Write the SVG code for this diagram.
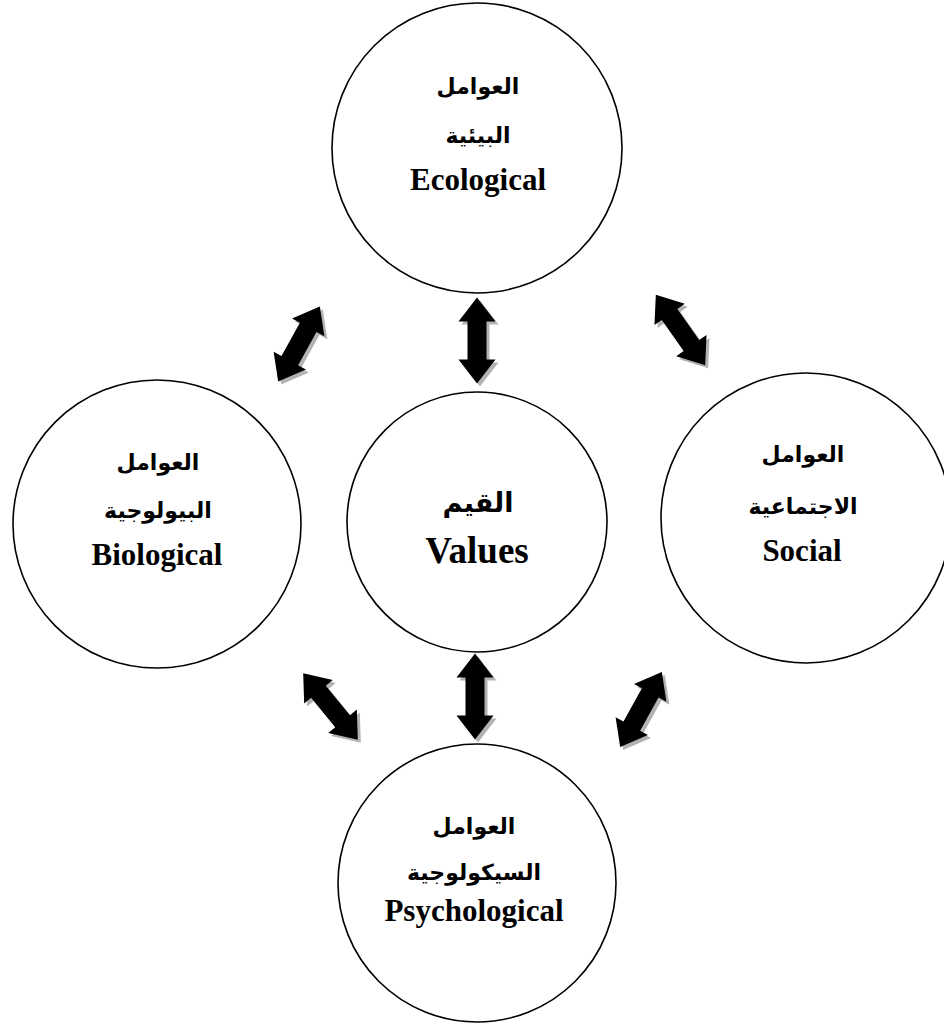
<svg xmlns="http://www.w3.org/2000/svg" xmlns:xlink="http://www.w3.org/1999/xlink" width="944" height="1023" viewBox="0 0 944 1023">
  <style>
    .node { fill: #ffffff; stroke: #000000; stroke-width: 1.6; }
    .ar { font-family: "DejaVu Sans", "Liberation Serif", serif; font-weight: bold; font-size: 22px; fill: #000; text-anchor: middle; direction: rtl; }
    .en { font-family: "Liberation Serif", "Times New Roman", serif; font-weight: bold; font-size: 31px; fill: #000; text-anchor: middle; }
    .big { font-size: 37px; }
    .arbig { font-size: 27px; }
    .shadow { fill: #b3b3b3; }
    .arrow { fill: #000000; }
  </style>
  <defs>
    <path id="dbl" d="M -43 0 L -19 -18.5 L -19 -9.5 L 19 -9.5 L 19 -18.5 L 43 0 L 19 18.5 L 19 9.5 L -19 9.5 L -19 18.5 Z"/>
  </defs>
  <rect x="0" y="0" width="944" height="1023" fill="#ffffff"/>

  <g id="connectors">
    <g id="arrow-top">
      <use xlink:href="#dbl" class="shadow" transform="translate(480,343.5) rotate(90)"/>
      <use xlink:href="#dbl" class="arrow" transform="translate(477,340.5) rotate(90)"/>
    </g>
    <g id="arrow-bottom">
      <use xlink:href="#dbl" class="shadow" transform="translate(478,699.5) rotate(90)"/>
      <use xlink:href="#dbl" class="arrow" transform="translate(475,696.5) rotate(90)"/>
    </g>
    <g id="arrow-upper-left">
      <use xlink:href="#dbl" class="shadow" transform="translate(302,347) rotate(-61)"/>
      <use xlink:href="#dbl" class="arrow" transform="translate(299,344) rotate(-61)"/>
    </g>
    <g id="arrow-upper-right">
      <use xlink:href="#dbl" class="shadow" transform="translate(683.5,333) rotate(55)"/>
      <use xlink:href="#dbl" class="arrow" transform="translate(680.5,330) rotate(55)"/>
    </g>
    <g id="arrow-lower-left">
      <use xlink:href="#dbl" class="shadow" transform="translate(333.5,709.5) rotate(50.6)"/>
      <use xlink:href="#dbl" class="arrow" transform="translate(330.5,706.5) rotate(50.6)"/>
    </g>
    <g id="arrow-lower-right">
      <use xlink:href="#dbl" class="shadow" transform="translate(644,712.5) rotate(-61)"/>
      <use xlink:href="#dbl" class="arrow" transform="translate(641,709.5) rotate(-61)"/>
    </g>
  </g>

  <g id="node-ecological">
    <circle class="node" cx="477" cy="148" r="145"/>
    <text class="ar" x="478" y="94">العوامل</text>
    <text class="ar" x="478" y="143">البيئية</text>
    <text class="en" x="478" y="190">Ecological</text>
  </g>

  <g id="node-biological">
    <circle class="node" cx="157" cy="524" r="144"/>
    <text class="ar" x="158" y="470">العوامل</text>
    <text class="ar" x="158" y="518">البيولوجية</text>
    <text class="en" x="157" y="565">Biological</text>
  </g>

  <g id="node-values">
    <circle class="node" cx="477" cy="522" r="130"/>
    <text class="ar arbig" x="478" y="512">القيم</text>
    <text class="en big" x="477" y="563">Values</text>
  </g>

  <g id="node-social">
    <circle class="node" cx="806" cy="518" r="145"/>
    <text class="ar" x="803" y="462">العوامل</text>
    <text class="ar" x="803" y="514">الاجتماعية</text>
    <text class="en" x="802" y="561">Social</text>
  </g>

  <g id="node-psychological">
    <circle class="node" cx="477" cy="883" r="139"/>
    <text class="ar" x="474" y="834">العوامل</text>
    <text class="ar" x="474" y="880">السيكولوجية</text>
    <text class="en" x="474" y="921">Psychological</text>
  </g>
</svg>
